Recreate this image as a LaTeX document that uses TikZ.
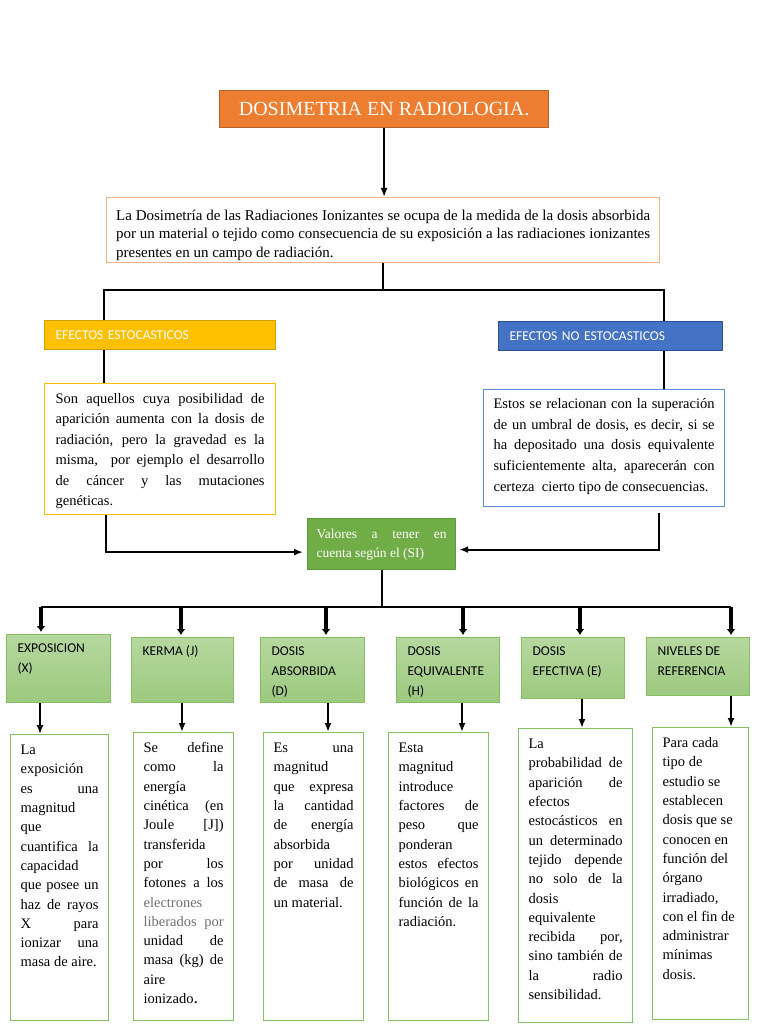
\documentclass[tikz,border=0pt]{standalone}
\usepackage{fontspec}
\setmainfont{Liberation Serif}
\newfontfamily\carlito{Carlito}
\usetikzlibrary{shapes,arrows.meta}

\definecolor{naranja}{HTML}{ED7D31}
\definecolor{naranjaborde}{HTML}{B8632A}
\definecolor{naranjaclaro}{HTML}{F4B183}
\definecolor{amarillo}{HTML}{FFC000}
\definecolor{amarilloborde}{HTML}{D4A000}
\definecolor{azul}{HTML}{4472C4}
\definecolor{azulborde}{HTML}{2F528F}
\definecolor{azulclaro}{HTML}{5B8BD9}
\definecolor{verde}{HTML}{70AD47}
\definecolor{verdeborde}{HTML}{5E9A3A}
\definecolor{verdearriba}{HTML}{B6D89F}
\definecolor{verdeabajo}{HTML}{9DC97F}
\definecolor{verdelinea}{HTML}{86BF62}
\definecolor{gristexto}{HTML}{707070}

% caja de texto con alto fijo, texto arriba
\newcommand{\cajatxt}[3]{\parbox[t][#2][t]{#1}{\strut#3}}
% linea justificada
\newcommand{\jl}[1]{\makebox[\linewidth][s]{#1}}

\tikzset{
  caja/.style={draw, anchor=north west, inner xsep=10pt, inner ysep=6.5pt, line width=1.2pt, font=\fontsize{14.5}{19.3}\selectfont},
  encabezado/.style={anchor=north west, inner xsep=11pt, inner ysep=0pt, minimum height=29pt, align=left, text=white, font=\carlito\fontsize{13.5}{16}\selectfont, line width=1.2pt},
  concepto/.style={draw=verdelinea, top color=verdearriba, bottom color=verdeabajo, anchor=north west, inner xsep=11pt, inner ysep=4.3pt, font=\carlito\fontsize{13.5}{20}\selectfont, line width=1.2pt},
  textobaja/.style={caja, draw=verdelinea},
  linea/.style={line width=1.8pt},
  flecha/.style={line width=1.8pt, -{Latex[length=9pt,width=7pt]}},
  flechagruesa/.style={line width=3.5pt, -{Latex[length=6pt,width=9pt]}}
}

\begin{document}
\begin{tikzpicture}[x=1pt, y=-1pt]
\useasboundingbox (0,0) rectangle (768,1024);

% titulo y definicion
\node[draw=naranjaborde, fill=naranja, text=white, anchor=north west, minimum width=329pt, minimum height=37pt, inner sep=0pt, font=\fontsize{20}{24}\selectfont, line width=1.2pt] (titulo) at (219,90) {DOSIMETRIA EN RADIOLOGIA.};
\node[caja, draw=naranjaclaro, inner xsep=9.5pt, inner ysep=9.5pt, font=\fontsize{15}{18.5}\selectfont] (definicion) at (106,197) {\cajatxt{534pt}{46pt}{%
  \jl{La Dosimetría de las Radiaciones Ionizantes se ocupa de la medida de la dosis absorbida}\\
  \jl{por un material o tejido como consecuencia de su exposición a las radiaciones ionizantes}\\
  presentes en un campo de radiación.}};

% efectos
\node[encabezado, fill=amarillo, draw=amarilloborde, text width=209pt] (estoc) at (44,320) {EFECTOS ESTOCASTICOS};
\node[encabezado, fill=azul, draw=azulborde, text width=202pt] (noestoc) at (498,321) {EFECTOS NO ESTOCASTICOS};

\node[caja, draw=amarillo, inner xsep=11pt, inner ysep=5.7pt, font=\fontsize{14.5}{20.4}\selectfont] (estoctxt) at (44,383) {\cajatxt{209pt}{119.6pt}{%
  \jl{Son aquellos cuya posibilidad de}\\
  \jl{aparición aumenta con la dosis de}\\
  \jl{radiación, pero la gravedad es la}\\
  \jl{misma,\ \ por ejemplo el desarrollo}\\
  \jl{de cáncer y las mutaciones}\\
  genéticas.}};
\node[caja, draw=azulclaro, inner xsep=10pt, inner ysep=4.6pt, font=\fontsize{14.5}{20.6}\selectfont] (noestoctxt) at (483,389) {\cajatxt{221pt}{107.8pt}{%
  \jl{Estos se relacionan con la superación}\\
  \jl{de un umbral de dosis, es decir, si se}\\
  \jl{ha depositado una dosis equivalente}\\
  \jl{suficientemente alta, aparecerán con}\\
  \mbox{certeza\ \ cierto tipo de consecuencias.}}};

% valores SI
\node[caja, fill=verde, draw=verdeborde, text=white, inner xsep=9pt, inner ysep=6.2pt, font=\fontsize{13.5}{19}\selectfont] (valores) at (307,518) {\cajatxt{130pt}{38.6pt}{%
  \jl{Valores a tener en}\\
  cuenta según el (SI)}};

% magnitudes
\node[concepto] (exposicion) at (6,634) {\cajatxt{82pt}{59.4pt}{EXPOSICION\\(X)}};
\node[concepto] (kerma) at (131,637) {\cajatxt{80pt}{56.4pt}{KERMA (J)}};
\node[concepto] (absorbida) at (260,637) {\cajatxt{82pt}{56.4pt}{DOSIS\\ABSORBIDA\\(D)}};
\node[concepto] (equivalente) at (396,637) {\cajatxt{81pt}{56.4pt}{DOSIS\\EQUIVALENTE\\(H)}};
\node[concepto] (efectiva) at (521,637) {\cajatxt{81pt}{52.4pt}{DOSIS\\EFECTIVA (E)}};
\node[concepto] (niveles) at (646,637) {\cajatxt{81pt}{49.4pt}{NIVELES DE\\REFERENCIA}};

% descripciones
\node[textobaja] (exptxt) at (10,734) {\cajatxt{78pt}{273pt}{%
  La\\ exposición\\ \jl{es una}\\ magnitud\\ que\\ \jl{cuantifica la}\\ capacidad\\
  \jl{que posee un}\\ \jl{haz de rayos}\\ \jl{X para}\\ \jl{ionizar una}\\ masa de aire.}};
\node[textobaja] (kermatxt) at (133,732) {\cajatxt{80pt}{275pt}{%
  \jl{Se define}\\ \jl{como la}\\ energía\\ \jl{cinética (en}\\ \jl{Joule [J])}\\ transferida\\
  \jl{por los}\\ \jl{fotones a los}\\ {\color{gristexto}electrones}\\ \jl{\color{gristexto}liberados por}\\
  \jl{unidad de}\\ \jl{masa (kg) de}\\ aire\\ ionizado{\fontsize{18}{19.3}\selectfont.}}};
\node[textobaja] (absorbidatxt) at (263,732) {\cajatxt{80pt}{275pt}{%
  \jl{Es una}\\ magnitud\\ \jl{que expresa}\\ \jl{la cantidad}\\ \jl{de energía}\\ absorbida\\
  \jl{por unidad}\\ \jl{de masa de}\\ un material.}};
\node[textobaja] (equivalentetxt) at (388,732) {\cajatxt{80pt}{275pt}{%
  Esta\\ magnitud\\ introduce\\ \jl{factores de}\\ \jl{peso que}\\ ponderan\\
  \jl{estos efectos}\\ \jl{biológicos en}\\ \jl{función de la}\\ radiación.}};
\node[textobaja] (efectivatxt) at (518,728) {\cajatxt{94pt}{281pt}{%
  La\\ \jl{probabilidad de}\\ \jl{aparición de}\\ efectos\\ \jl{estocásticos en}\\ \jl{un determinado}\\
  \jl{tejido depende}\\ \jl{no solo de la}\\ dosis\\ equivalente\\ \jl{recibida por,}\\
  \jl{sino también de}\\ \jl{la radio}\\ sensibilidad.}};
\node[textobaja] (nivelestxt) at (652,727) {\cajatxt{76pt}{279pt}{%
  Para cada\\ tipo de\\ estudio se\\ establecen\\ dosis que se\\ conocen en\\ función del\\
  órgano\\ irradiado,\\ con el fin de\\ administrar\\ mínimas\\ dosis.}};

% conectores
\coordinate (ramaizq) at (104,290);
\coordinate (ramader) at (664,290);
\coordinate (barra) at (383,607);
\draw[flecha] (titulo.south) -- (titulo.south |- definicion.north);
\draw[linea] (definicion.south) -- (definicion.south |- ramaizq);
\draw[linea] (ramaizq |- estoc.north) -- (ramaizq) -- (ramader) -- (ramader |- noestoc.north);
\draw[linea] (ramaizq |- estoc.south) -- (ramaizq |- estoctxt.north);
\draw[linea] (ramader |- noestoc.south) -- (ramader |- noestoctxt.north);
\draw[flecha, shorten >=4pt] ([xshift=62pt]estoctxt.south west) |- ([yshift=-8pt]valores.west);
\draw[flecha, shorten >=3pt, shorten <=6pt] ([xshift=176pt]noestoctxt.south west) |- ([yshift=-5.5pt]valores.east);
\draw[linea] (valores.south) -- (valores.south |- barra);
\draw[line width=2.5pt] ([xshift=35pt]exposicion.north west |- barra) -- ([xshift=85pt]niveles.north west |- barra);
\foreach \cabeza/\cuerpo/\dxa/\dxb in {exposicion/exptxt/35/34, kerma/kermatxt/50/51, absorbida/absorbidatxt/66/68,
    equivalente/equivalentetxt/67/66, efectiva/efectivatxt/59/61, niveles/nivelestxt/85/85} {
  \draw[flechagruesa, shorten >=2pt] ([xshift=\dxa pt]\cabeza.north west |- barra) -- ([xshift=\dxa pt]\cabeza.north west);
  \draw[flecha] ([xshift=\dxb pt]\cabeza.south west) -- ([xshift=\dxb pt]\cabeza.south west |- \cuerpo.north);
}
\end{tikzpicture}
\end{document}
